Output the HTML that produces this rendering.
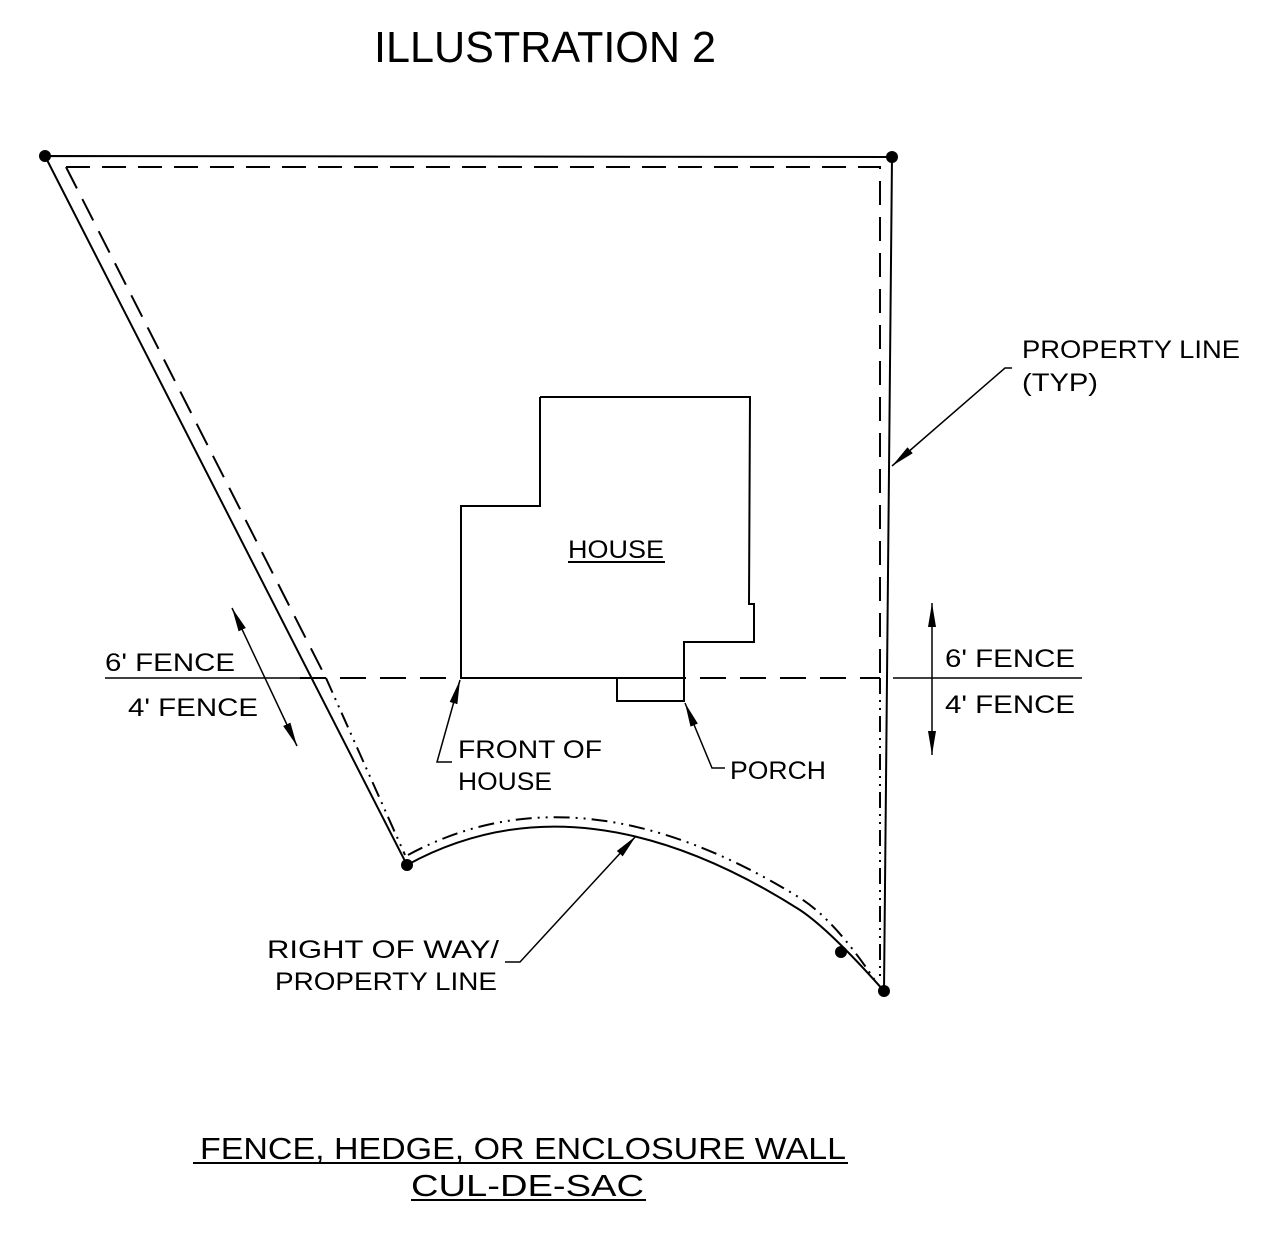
<!DOCTYPE html>
<html><head><style>
html,body{margin:0;padding:0;background:#fff;}
svg{display:block;}
text{font-family:"Liberation Sans",sans-serif;fill:#000;}
</style></head><body>
<svg width="1273" height="1254" viewBox="0 0 1273 1254" xmlns="http://www.w3.org/2000/svg">
<defs>
<marker id="ah2" viewBox="0 0 24 10" refX="24" refY="5" markerWidth="24" markerHeight="10" orient="auto-start-reverse" markerUnits="userSpaceOnUse">
<path d="M0,1 L24,5 L0,9 z" fill="#000"/></marker>
</defs>
<text x="545" y="62" font-size="44" text-anchor="middle" textLength="342" lengthAdjust="spacingAndGlyphs">ILLUSTRATION 2</text>

<g fill="none" stroke="#000">
<path d="M45,156 L892,157 L884,991 M45,156 L407,865" stroke-width="2"/>
<path d="M407,865 Q580,770 800,910 Q830,930 884,991" stroke-width="2"/>
<path d="M66,167 L880,167 L880,678 M66,167 L326,678" stroke-width="2" stroke-dasharray="24,12"/>
<path d="M326,678 L405,855 M880,678 L880,982" stroke-width="2" stroke-dasharray="16,6,2,6,2,6"/>
<path d="M408,855 Q580,762 800,898 Q835,920 876,982" stroke-width="2" stroke-dasharray="16,6,2,6,2,6"/>
<path d="M105,678 L300,678 M893,678 L1082,678" stroke-width="1.5"/>
<path d="M300,678 L880,678" stroke-width="2" stroke-dasharray="26,14"/>
<path d="M540,397 L750,397 L749,604 L754,604 L754,642 L684,642 L684,701 L617,701 L617,678 M540,397 L540,506 L461,506 L461,678 L684,678" stroke-width="2"/>
<path d="M232,608 L297,746" stroke-width="1.5" marker-start="url(#ah2)" marker-end="url(#ah2)"/>
<path d="M932,603 L932,755" stroke-width="1.5" marker-start="url(#ah2)" marker-end="url(#ah2)"/>
<path d="M1012,368 L1005,368 L892,466" stroke-width="1.5" marker-end="url(#ah2)"/>
<path d="M452,762 L437,762 L460,680" stroke-width="1.5" marker-end="url(#ah2)"/>
<path d="M725,768 L712,768 L685,703" stroke-width="1.5" marker-end="url(#ah2)"/>
<path d="M505,962 L520,962 L636,836" stroke-width="1.5" marker-end="url(#ah2)"/>
<path d="M568,562 L665,562 M193,1163 L848,1163" stroke-width="2"/>
</g>
<g fill="#000">
<circle cx="45" cy="156" r="6"/><circle cx="892" cy="157" r="6"/>
<circle cx="407" cy="865" r="6"/><circle cx="884" cy="991" r="6"/><circle cx="841" cy="952" r="6"/>
</g>
<g font-size="25">
<text x="105" y="671" textLength="130" lengthAdjust="spacingAndGlyphs">6' FENCE</text>
<text x="128" y="716" textLength="130" lengthAdjust="spacingAndGlyphs">4' FENCE</text>
<text x="945" y="667" textLength="130" lengthAdjust="spacingAndGlyphs">6' FENCE</text>
<text x="945" y="713" textLength="130" lengthAdjust="spacingAndGlyphs">4' FENCE</text>
<text x="1022" y="358" textLength="218" lengthAdjust="spacingAndGlyphs">PROPERTY LINE</text>
<text x="1022" y="391" textLength="76" lengthAdjust="spacingAndGlyphs">(TYP)</text>
<text x="568" y="558" textLength="96" lengthAdjust="spacingAndGlyphs">HOUSE</text>
<text x="458" y="758" textLength="144" lengthAdjust="spacingAndGlyphs">FRONT OF</text>
<text x="458" y="790" textLength="94" lengthAdjust="spacingAndGlyphs">HOUSE</text>
<text x="730" y="779" textLength="96" lengthAdjust="spacingAndGlyphs">PORCH</text>
<text x="267" y="958" textLength="232" lengthAdjust="spacingAndGlyphs">RIGHT OF WAY/</text>
<text x="275" y="990" textLength="222" lengthAdjust="spacingAndGlyphs">PROPERTY LINE</text>
</g>
<g font-size="31">
<text x="200" y="1159" textLength="646" lengthAdjust="spacingAndGlyphs">FENCE, HEDGE, OR ENCLOSURE WALL</text>
<text x="411" y="1196" textLength="233" lengthAdjust="spacingAndGlyphs">CUL-DE-SAC</text>
</g>
<path d="M411,1200 L646,1200" stroke="#000" stroke-width="2"/>
</svg>
</body></html>
